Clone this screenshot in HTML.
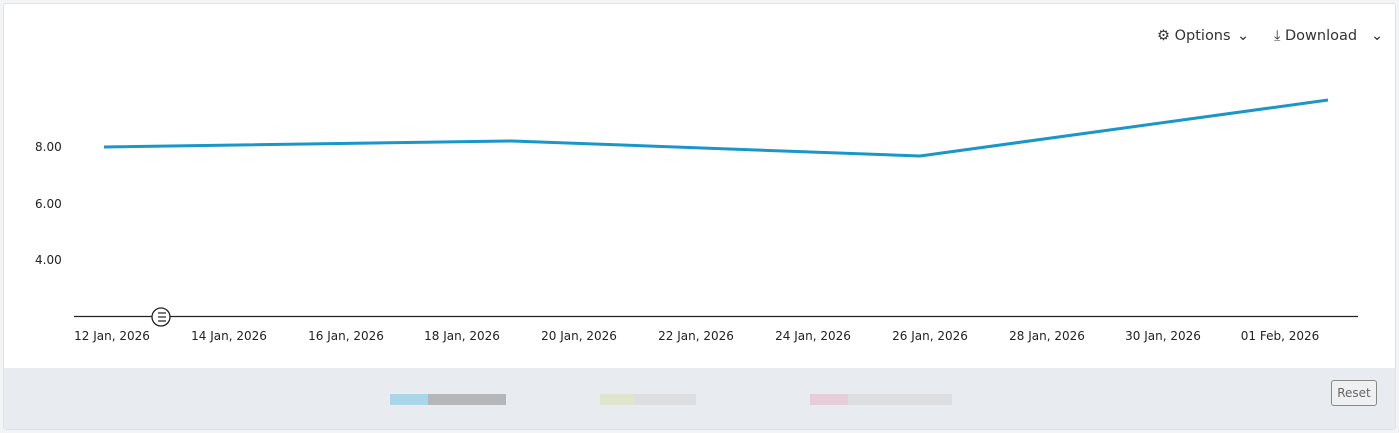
<!DOCTYPE html>
<html><head><style>
body{margin:0;width:1399px;height:433px;background:#f3f4f6;font-family:"DejaVu Sans","Liberation Sans",sans-serif;overflow:hidden}
.card{position:absolute;left:3px;top:3px;width:1391px;height:425px;background:#fff;border:1px solid #dfe1e5;border-radius:3px;overflow:hidden}
.foot{position:absolute;left:0;top:364px;width:100%;height:62px;background:#e8ebef}
.tb{position:absolute;top:24px;font-size:14.5px;color:#333;font-family:"DejaVu Sans",sans-serif}
</style></head><body>
<div class="card">
<div class="tb" style="left:1153px">⚙ Options</div>
<div class="tb" style="left:1233px">⌄</div>
<div class="tb" style="left:1270px">⤓ Download</div>
<div class="tb" style="left:1367px">⌄</div>
<div class="foot">
<div style="position:absolute;left:386px;top:26px;width:38px;height:11px;background:#a9d6e8"></div>
<div style="position:absolute;left:424px;top:26px;width:78px;height:11px;background:#b5b6ba"></div>
<div style="position:absolute;left:596px;top:26px;width:34px;height:11px;background:#dfe6cc"></div>
<div style="position:absolute;left:630px;top:26px;width:62px;height:11px;background:#dcdee2"></div>
<div style="position:absolute;left:806px;top:26px;width:38px;height:11px;background:#e6cdd8"></div>
<div style="position:absolute;left:844px;top:26px;width:104px;height:11px;background:#dcdee2"></div>
<div style="position:absolute;left:1327px;top:12px;width:44px;height:24px;border:1px solid #888;border-radius:3px;font-size:12px;color:#666;text-align:center;line-height:24px;background:#eef0f2">Reset</div>
</div>
</div>
<svg width="1399" height="433" style="position:absolute;left:0;top:0">
<line x1="74" y1="316.5" x2="1358" y2="316.5" stroke="#222" stroke-width="1.2"/>
<polyline points="104,147 512,141 920,156 1328,100" fill="none" stroke="#1a96c8" stroke-width="3" stroke-linejoin="round"/>
<circle cx="161" cy="317" r="9" fill="#fff" stroke="#222" stroke-width="1.3"/>
<g stroke="#222" stroke-width="1.2"><line x1="158" y1="313" x2="166" y2="313"/><line x1="158" y1="317" x2="166" y2="317"/><line x1="158" y1="321" x2="166" y2="321"/></g>
<g font-size="12" fill="#222" font-family="DejaVu Sans, Liberation Sans, sans-serif">
<text x="35" y="151">8.00</text><text x="35" y="208">6.00</text><text x="35" y="264">4.00</text>
<g text-anchor="middle">
<text x="112" y="340">12 Jan, 2026</text><text x="229" y="340">14 Jan, 2026</text><text x="346" y="340">16 Jan, 2026</text><text x="462" y="340">18 Jan, 2026</text><text x="579" y="340">20 Jan, 2026</text><text x="696" y="340">22 Jan, 2026</text><text x="813" y="340">24 Jan, 2026</text><text x="930" y="340">26 Jan, 2026</text><text x="1047" y="340">28 Jan, 2026</text><text x="1163" y="340">30 Jan, 2026</text><text x="1280" y="340">01 Feb, 2026</text>
</g></g>
</svg>
</body></html>
